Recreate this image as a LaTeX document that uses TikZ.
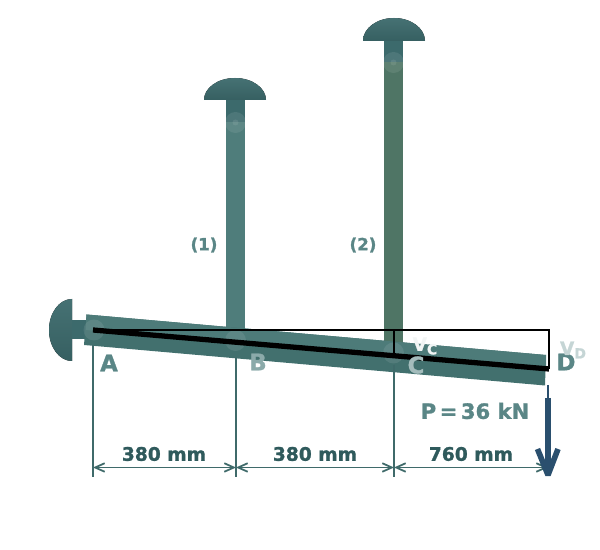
\documentclass[tikz,border=0pt]{standalone}
\usepackage{fontspec}
\setmainfont[FakeBold=1.2]{DejaVu Sans Bold}
\usetikzlibrary{arrows.meta}
\definecolor{barone}{HTML}{4F7D7B}
\definecolor{bartwo}{HTML}{4F7565}
\definecolor{capteal}{HTML}{3C6A6C}
\definecolor{beamlow}{HTML}{42706E}
\definecolor{beamup}{HTML}{4D7B79}
\definecolor{dimteal}{HTML}{3F6A6A}
\definecolor{dimtext}{HTML}{2F5A5C}
\definecolor{labelteal}{HTML}{5A8686}
\definecolor{loadblue}{HTML}{2A4F6E}
\tikzset{
	capshade/.style={top color=capteal!95!white,bottom color=capteal!90!black,draw=none},
	pinring/.style={fill=white,fill opacity=.09,draw=none},
	dimline/.style={draw=dimteal,line width=1pt},
	dimtxt/.style={text=dimtext,font=\fontsize{10.6}{12}\selectfont,inner sep=0pt},
	ptlabel/.style={text=labelteal,font=\fontsize{13}{14}\selectfont,inner sep=0pt},
	barlabel/.style={text=labelteal,font=\fontsize{9.5}{11}\selectfont,inner sep=0pt},
}
\begin{document}
\begin{tikzpicture}
	\useasboundingbox (0,0) rectangle (12,11);
	% bars and round heads
	\fill[barone] (4.52,4.42) rectangle (4.9,9);
	\fill[capteal] (4.52,8.55) rectangle (4.9,9);
	\fill[capshade] (4.08,9) arc (180:0:.62 and .44) -- cycle;
	\fill[bartwo] (7.68,4.1) rectangle (8.06,10.18);
	\fill[capteal] (7.68,9.75) rectangle (8.06,10.18);
	\fill[capshade] (7.26,10.18) arc (180:0:.62 and .46) -- cycle;
	\fill[capshade] (1.44,5.02) arc (90:270:.46 and .62) -- cycle;
	\fill[capteal] (1.44,4.22) rectangle (1.76,4.6);
	% beam
	\fill[beamlow] (1.73,4.71) -- (1.68,4.1) -- (10.9,3.29) -- (10.92,3.9) -- cycle;
	\fill[beamup] (1.73,4.71) -- (1.71,4.4) -- (10.92,3.62) -- (10.92,3.9) -- cycle;
	% pins
	\fill[pinring] (4.71,8.55) circle (.21);
	\fill[pinring] (4.71,8.55) circle (.06);
	\fill[pinring] (7.87,9.75) circle (.21);
	\fill[pinring] (7.87,9.75) circle (.06);
	\fill[pinring] (1.88,4.4) circle (.21);
	\fill[pinring] (4.71,4.19) circle (.21);
	\fill[pinring] (7.87,3.94) circle (.21);
	% deflected shape
	\coordinate (A) at (1.86,4.4);
	\coordinate (Dlow) at (10.98,3.62);
	\coordinate (Dtop) at (10.98,4.4);
	\coordinate (Ctop) at (7.88,4.4);
	\coordinate (Clow) at (7.88,3.88);
	\draw[line width=1.4pt,line join=miter] (A) -- (Dtop) -- (Dlow);
	\draw[line width=.9pt] (Ctop) -- (Clow);
	\draw[line width=3pt] (A) -- (Dlow);
	% dimensions
	\coordinate (dimA) at (1.86,1.65);
	\coordinate (dimB) at (4.72,1.65);
	\coordinate (dimC) at (7.88,1.65);
	\coordinate (dimD) at (10.96,1.65);
	\draw[dimline] (1.86,4.1) -- (1.86,1.46);
	\draw[dimline] (4.72,3.86) -- (4.72,1.46);
	\draw[dimline] (7.88,3.7) -- (7.88,1.46);
	\draw[dimline,{Straight Barb[length=.19cm,width=.17cm]}-{Straight Barb[length=.19cm,width=.17cm]}] (dimA) -- (dimB);
	\draw[dimline,{Straight Barb[length=.19cm,width=.17cm]}-{Straight Barb[length=.19cm,width=.17cm]}] (dimB) -- (dimC);
	\draw[dimline,{Straight Barb[length=.19cm,width=.17cm]}-{Straight Barb[length=.19cm,width=.17cm]}] (dimC) -- (dimD);
	% load
	\coordinate (loadtop) at (10.96,3.3);
	\coordinate (loadmid) at (10.96,3.04);
	\coordinate (loadend) at (10.96,1.55);
	\draw[draw=loadblue,line width=.8pt] (loadtop) -- (loadmid);
	\draw[draw=loadblue,line width=3.2pt] (loadmid) -- (loadend);
	\draw[draw=loadblue,line width=3.2pt,line join=bevel] (10.75,2.02) -- (10.96,1.5) -- (11.16,2.02);
	% labels
	\node[barlabel] (lblone) at (4.08,6.1) {(1)};
	\node[barlabel] (lbltwo) at (7.26,6.1) {(2)};
	\node[ptlabel] (ptA) at (2.18,3.74) {A};
	\node[ptlabel,text=labelteal!70!white] (ptB) at (5.16,3.76) {B};
	\node[ptlabel,text=labelteal!55!white] (ptC) at (8.32,3.7) {C};
	\node[ptlabel] (ptD) at (11.32,3.76) {D};
	\node[inner sep=0pt,text=white!92!labelteal,font=\fontsize{10.5}{12}\selectfont] (Vc) at (8.5,4.08) {V\raisebox{-2pt}{\fontsize{8}{9}\selectfont C}};
	\node[inner sep=0pt,text=labelteal!35!white,font=\fontsize{10.5}{12}\selectfont] (Vd) at (11.46,4) {V\raisebox{-2pt}{\fontsize{8}{9}\selectfont D}};
	\node[text=labelteal,font=\fontsize{12}{14}\selectfont,inner sep=0pt] (load) at (9.5,2.78) {P\,=\,36 kN};
	\node[dimtxt] (len1) at (3.28,1.92) {380 mm};
	\node[dimtxt] (len2) at (6.3,1.92) {380 mm};
	\node[dimtxt] (len3) at (9.42,1.92) {760 mm};
\end{tikzpicture}
\end{document}
